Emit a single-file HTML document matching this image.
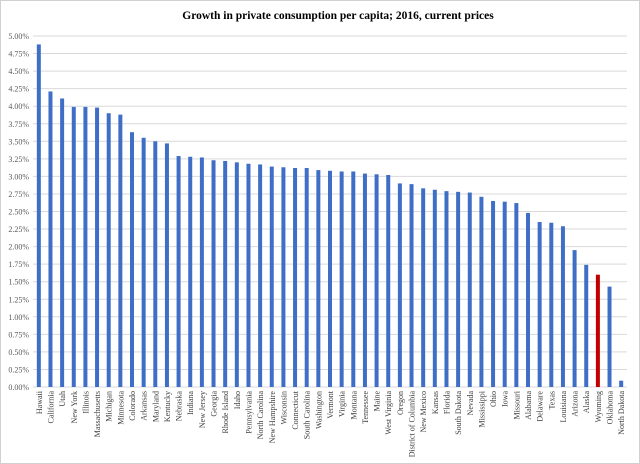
<!DOCTYPE html>
<html><head><meta charset="utf-8"><style>
body{margin:0;background:#fff}
svg{display:block;font-family:"Liberation Serif",serif}
</style></head><body>
<svg id="c" width="640" height="464">
<rect x="0.5" y="0.5" width="639" height="463" fill="#fff" stroke="#d0d0d0"/>
<text x="338" y="19" text-anchor="middle" font-size="11.5" font-weight="bold">Growth in private consumption per capita; 2016, current prices</text>
<g id="grid"></g><g id="bars"></g><g id="labels"></g>
</svg>
<script>
const categories=["Hawaii","California","Utah","New York","Illinois","Massachusetts","Michigan","Minnesota","Colorado","Arkansas","Maryland","Kentucky","Nebraska","Indiana","New Jersey","Georgia","Rhode Island","Idaho","Pennsylvania","North Carolina","New Hampshire","Wisconsin","Connecticut","South Carolina","Washington","Vermont","Virginia","Montana","Tennessee","Maine","West Virginia","Oregon","District of Columbia","New Mexico","Kansas","Florida","South Dakota","Nevada","Mississippi","Ohio","Iowa","Missouri","Alabama","Delaware","Texas","Louisiana","Arizona","Alaska","Wyoming","Oklahoma","North Dakota"];
const values=[4.88,4.21,4.11,3.99,3.99,3.98,3.90,3.88,3.63,3.55,3.50,3.47,3.29,3.28,3.27,3.23,3.22,3.20,3.18,3.17,3.14,3.13,3.12,3.12,3.09,3.08,3.07,3.07,3.04,3.03,3.02,2.90,2.89,2.83,2.81,2.79,2.78,2.77,2.71,2.65,2.64,2.62,2.48,2.35,2.34,2.29,1.95,1.74,1.60,1.43,0.09];
const highlight=["Wyoming"];
const ticks=[0,0.25,0.5,0.75,1,1.25,1.5,1.75,2,2.25,2.5,2.75,3,3.25,3.5,3.75,4,4.25,4.5,4.75,5];
const NS="http://www.w3.org/2000/svg";
const L=33,R=627,T=36,B=387,YMAX=5;
const y=v=>B-(v/YMAX)*(B-T);
const bw=(R-L)/categories.length;
const x=i=>L+bw*(i+0.5);
function mk(t,a,p){const e=document.createElementNS(NS,t);for(const k in a)e.setAttribute(k,a[k]);p.appendChild(e);return e;}
const grid=document.getElementById('grid'),bars=document.getElementById('bars'),labels=document.getElementById('labels');
ticks.forEach(t=>{
  const l=mk('line',{x1:L,x2:R,y1:y(t),y2:y(t),stroke:'#d9d9d9','stroke-width':1},grid);
  
  
  const tx=mk('text',{x:L-4,y:y(t)+3,'text-anchor':'end','font-size':8,fill:'#595959'},grid);
  tx.textContent=t.toFixed(2)+'%';
  
  
});
categories.forEach((c,i)=>{
  const v=values[i];
  const r=mk('rect',{x:x(i)-2,y:y(v),width:4,height:B-y(v),fill:highlight.includes(c)?'#c00000':'#3f6ec6'},bars);
  
  
  const tx=mk('text',{transform:`translate(${x(i)+3},${B+4}) rotate(-90)`,'text-anchor':'end','font-size':8,fill:'#404040'},labels);
  tx.textContent=c;
  
  
});
</script>
</body></html>
